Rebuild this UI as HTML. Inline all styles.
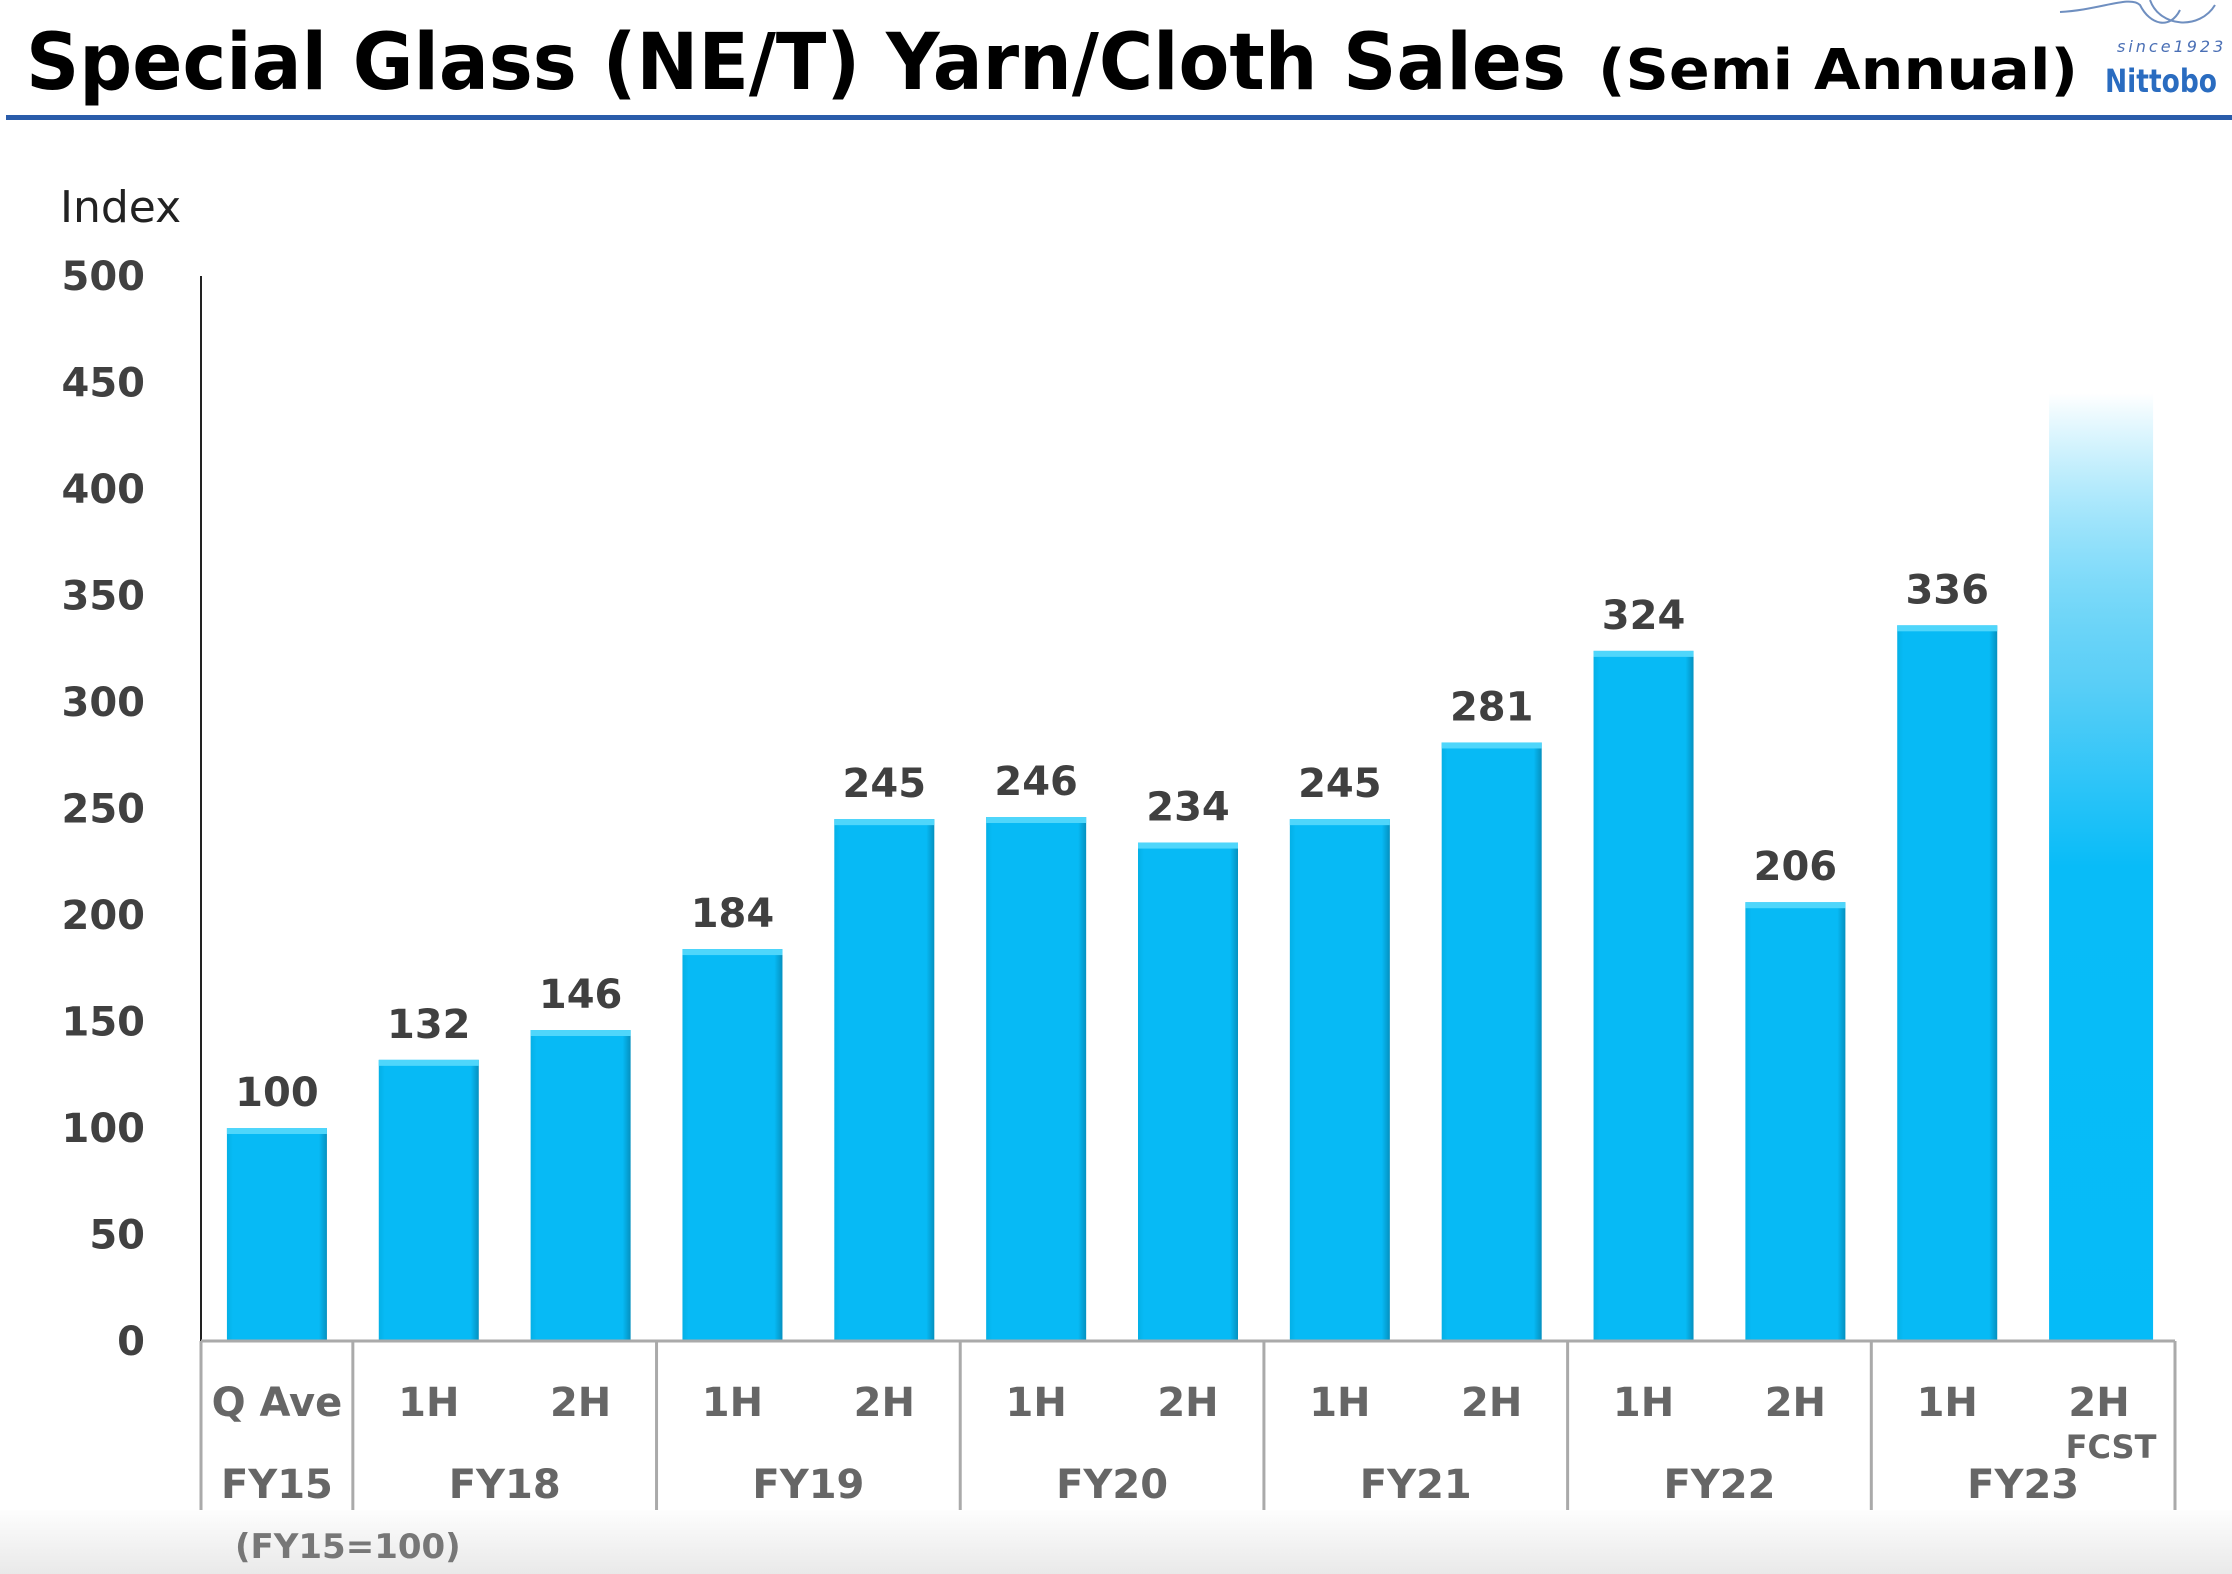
<!DOCTYPE html>
<html><head><meta charset="utf-8"><style>
html,body{margin:0;padding:0;background:#fff;}
svg{display:block;}
text{font-family:"DejaVu Sans","Liberation Sans",sans-serif;}
</style></head><body>
<svg id="chart" width="2232" height="1574" viewBox="0 0 2232 1574">
<defs>
<linearGradient id="bg" x1="0" y1="0" x2="0" y2="1"><stop offset="0" stop-color="#fdfdfd"/><stop offset="1" stop-color="#e9e9e9"/></linearGradient>
<linearGradient id="fc" x1="0" y1="0" x2="0" y2="1"><stop offset="0" stop-color="#00b9f5" stop-opacity="0"/><stop offset="0.3" stop-color="#5ccff7"/><stop offset="0.5" stop-color="#08bcf8"/><stop offset="1" stop-color="#05bbf8"/></linearGradient>
<linearGradient id="bar" x1="0" y1="0" x2="1" y2="0"><stop offset="0" stop-color="#04b0e6"/><stop offset="0.06" stop-color="#07baf5"/><stop offset="0.92" stop-color="#07baf5"/><stop offset="1" stop-color="#0590bf"/></linearGradient>
</defs>
<rect x="0" y="1510" width="2232" height="64" fill="url(#bg)"/>
<text x="26" y="89" font-size="78" font-weight="bold" fill="#000" textLength="1540" lengthAdjust="spacingAndGlyphs">Special Glass (NE/T) Yarn/Cloth Sales</text>
<text x="1598" y="89" font-size="56" font-weight="bold" fill="#000" textLength="480" lengthAdjust="spacingAndGlyphs">(Semi Annual)</text>
<rect x="6" y="115" width="2226" height="5" fill="#2a5caa"/>
<g>
<path d="M2060 12 C2100 10 2130 -5 2140 5 C2150 25 2170 30 2180 10 M2150 0 C2160 28 2200 30 2215 5" stroke="#6f8fc0" stroke-width="2" fill="none"/>
<text x="2117" y="52" font-size="16" font-style="italic" fill="#4a6fb5" letter-spacing="3">since1923</text>
<text x="2105" y="92" font-size="32" font-weight="bold" fill="#2a6cc0" textLength="112" lengthAdjust="spacingAndGlyphs">Nittobo</text>
</g>
<text x="60" y="222" font-size="44" fill="#222">Index</text>
<g id="yticks"></g>
<g id="bars"></g>
<g id="axes"></g>
<text x="235" y="1558" font-size="34" font-weight="bold" fill="#777">(FY15=100)</text>
</svg>
<script>
const categories=["Q Ave","1H","2H","1H","2H","1H","2H","1H","2H","1H","2H","1H","2H"];
const values=[100,132,146,184,245,246,234,245,281,324,206,336,445];
const valueLabels=["100","132","146","184","245","246","234","245","281","324","206","336",""];
const forecast=[false,false,false,false,false,false,false,false,false,false,false,false,true];
const groups=["FY15","FY18","FY19","FY20","FY21","FY22","FY23"];
const groupStarts=[0,1,3,5,7,9,11];
const groupEnds=[1,3,5,7,9,11,13];
const yTicks=[0,50,100,150,200,250,300,350,400,450,500];
const NS="http://www.w3.org/2000/svg";
const x0=201,x1=2175,yBase=1341,yTop=276;
const step=(x1-x0)/categories.length;
const xPos=i=>x0+step*(i+0.5);
const xEdge=i=>x0+step*i;
const yPos=v=>yBase-(yBase-yTop)*v/500;
function mk(tag,attrs,parent,txt){const e=document.createElementNS(NS,tag);for(const k in attrs)e.setAttribute(k,attrs[k]);if(txt!==undefined)e.textContent=txt;parent.appendChild(e);return e;}
const yg=document.getElementById('yticks');
yTicks.forEach(t=>{const e=mk('text',{x:145,y:yPos(t)+14,'font-size':40,'font-weight':'bold',fill:'#404040','text-anchor':'end'},yg,String(t));

});
const bg=document.getElementById('bars');
values.forEach((v,i)=>{const w=100,x=xPos(i)-w/2,y=yPos(v);
if(forecast[i]){const r=mk('rect',{x:x,y:y,width:w+4,height:yBase-y,fill:'url(#fc)'},bg);

return;}
const r=mk('rect',{x:x,y:y,width:w,height:yBase-y,fill:'url(#bar)'},bg);


mk('rect',{x:x,y:y,width:w,height:6,fill:'#4fd6fb'},bg);
const t=mk('text',{x:xPos(i),y:y-22,'font-size':40,'font-weight':'bold',fill:'#404040','text-anchor':'middle'},bg,valueLabels[i]);

});
const ag=document.getElementById('axes');
const ya=mk('line',{x1:x0,y1:yTop,x2:x0,y2:yBase,stroke:'#222','stroke-width':2},ag);


const xa=mk('line',{x1:x0,y1:yBase,x2:x1,y2:yBase,stroke:'#aaa','stroke-width':3},ag);


categories.forEach((c,i)=>{const t=mk('text',{x:xPos(i),y:1416,'font-size':40,'font-weight':'bold',fill:'#666','text-anchor':'middle'},ag,c);

});
const fcl=mk('text',{x:2111,y:1458,'font-size':32,'font-weight':'bold',fill:'#666','text-anchor':'middle'},ag,'FCST');


groups.forEach((g,k)=>{const a=xEdge(groupStarts[k]),b=xEdge(groupEnds[k]);
const s=mk('line',{x1:a,y1:yBase,x2:a,y2:1510,stroke:'#aaa','stroke-width':3},ag);


const t=mk('text',{x:(a+b)/2,y:1498,'font-size':40,'font-weight':'bold',fill:'#666','text-anchor':'middle'},ag,g);

});
const se=mk('line',{x1:x1,y1:yBase,x2:x1,y2:1510,stroke:'#aaa','stroke-width':3},ag);


</script>
</body></html>
